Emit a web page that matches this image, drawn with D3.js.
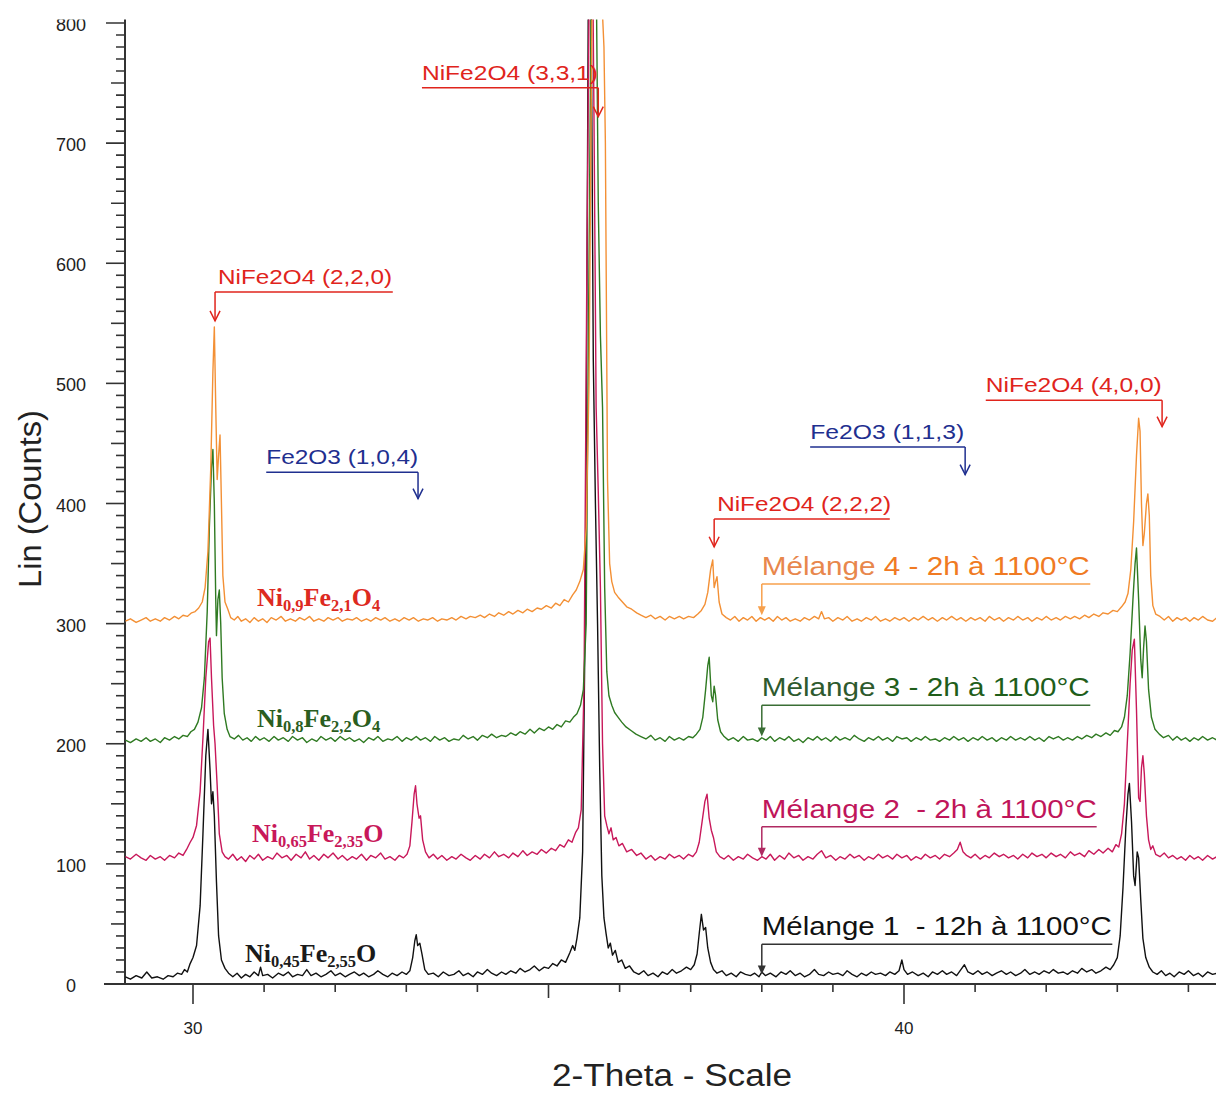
<!DOCTYPE html>
<html><head><meta charset="utf-8">
<script src="https://cdn.jsdelivr.net/npm/d3@7"></script>
<style>html,body{margin:0;padding:0;background:#fff;} svg{display:block;}</style>
</head><body><svg id="chart" width="1216" height="1094"></svg>
<script>
// ---- DATA: [2-theta (deg), Lin counts] ----
const melange1 = [[29.05,6],[29.12,4],[29.2,7],[29.28,5],[29.35,10],[29.42,5],[29.5,6],[29.58,4],[29.65,7],[29.72,6],[29.78,9],[29.84,8],[29.88,12],[29.92,10],[29.96,17],
[30.0,22],[30.05,32],[30.1,65],[30.14,125],[30.18,190],[30.21,212],[30.24,178],[30.26,150],[30.28,160],[30.3,140],[30.33,85],[30.36,40],[30.4,20],[30.45,13],[30.5,9],
[30.56,6],[30.62,9],[30.68,5],[30.74,8],[30.8,6],[30.86,10],[30.92,7],[30.95,14],[30.98,7],[31.05,8],[31.12,5],[31.2,9],[31.27,7],[31.34,10],[31.4,6],[31.47,8],[31.54,7],[31.6,12],[31.66,7],[31.73,9],[31.8,6],[31.87,8],[31.94,11],[32.0,7],[32.07,9],[32.14,6],[32.2,8],[32.27,10],[32.34,7],[32.4,9],[32.47,6],[32.54,8],[32.6,11],[32.67,8],[32.74,6],[32.8,9],[32.87,7],[32.94,10],[33.0,8],[33.05,11],
[33.09,22],[33.12,36],[33.14,41],[33.16,32],[33.19,34],[33.22,25],[33.26,12],[33.31,8],
[33.38,9],[33.45,6],[33.52,10],[33.6,7],[33.67,8],[33.74,11],[33.8,7],[33.87,9],[33.94,6],[34.0,10],[34.07,8],[34.14,12],[34.2,9],[34.27,7],[34.34,10],[34.4,8],[34.47,11],[34.54,9],[34.6,13],[34.67,10],[34.74,12],[34.8,15],[34.87,11],[34.94,14],[35.0,13],[35.06,17],[35.12,15],[35.18,20],[35.24,18],[35.3,26],[35.34,32],[35.37,28],[35.4,38],[35.44,55],[35.48,110],[35.52,330],[35.55,700],[35.57,950],[35.6,820],[35.63,520],[35.66,400],[35.69,300],[35.72,180],[35.75,90],[35.78,55],[35.81,42],[35.84,30],[35.87,34],[35.9,24],[35.94,28],[35.98,18],[36.03,20],[36.08,13],[36.14,15],[36.2,10],
[36.27,8],[36.34,11],[36.4,7],[36.47,9],[36.54,6],[36.6,10],[36.67,8],[36.74,12],[36.8,9],[36.87,11],[36.94,14],[37.0,12],[37.05,16],
[37.09,25],[37.12,42],[37.15,58],[37.18,45],[37.21,47],[37.24,30],[37.28,18],[37.32,12],[37.37,9],
[37.44,11],[37.5,7],[37.57,9],[37.64,6],[37.7,10],[37.77,8],[37.84,7],[37.9,9],[37.96,6],[38.0,10],[38.05,7],[38.12,9],[38.2,6],[38.27,10],[38.34,8],[38.4,11],[38.47,7],[38.54,9],[38.6,6],[38.67,8],[38.74,12],[38.8,8],[38.87,7],[38.94,10],[39.0,8],[39.07,9],[39.14,7],[39.2,11],[39.27,8],[39.34,6],[39.4,9],[39.47,7],[39.54,10],[39.6,8],[39.67,9],[39.74,7],[39.8,10],[39.87,8],[39.93,11],[39.97,20],[40.0,12],[40.05,8],[40.12,10],[40.2,7],[40.27,9],[40.34,6],[40.4,10],[40.47,8],[40.54,11],[40.6,8],[40.67,10],[40.74,7],[40.8,12],[40.85,16],[40.9,10],[40.97,8],[41.04,11],[41.1,8],[41.17,10],[41.24,7],[41.3,9],[41.37,11],[41.44,8],[41.5,10],[41.57,7],[41.64,9],[41.7,12],[41.77,8],[41.84,10],[41.9,8],[41.97,11],[42.04,9],[42.1,12],[42.17,9],[42.24,10],[42.3,8],[42.37,11],[42.44,9],[42.5,13],[42.57,10],[42.64,12],[42.7,9],[42.77,11],[42.84,14],[42.9,12],[42.95,16],
[43.0,22],[43.04,40],[43.08,80],[43.12,130],[43.15,158],[43.17,167],[43.2,135],[43.23,90],[43.25,82],[43.28,110],[43.3,105],[43.33,70],[43.36,38],[43.4,22],[43.45,14],[43.5,10],
[43.56,8],[43.62,11],[43.68,7],[43.74,9],[43.8,6],[43.87,10],[43.94,8],[44.0,11],[44.07,7],[44.14,9],[44.2,6],[44.27,10],[44.34,8],[44.4,9],[44.45,7]];

const melange2 = [[29.05,106],[29.12,104],[29.2,108],[29.27,105],[29.34,103],[29.4,107],[29.47,104],[29.54,106],[29.6,103],[29.67,107],[29.74,105],[29.8,109],[29.86,107],[29.91,112],[29.96,118],[30.0,122],[30.05,132],[30.1,160],[30.14,205],[30.18,255],[30.22,285],[30.24,288],[30.26,255],[30.29,215],[30.31,200],[30.34,165],[30.37,125],[30.41,110],[30.45,106],
[30.5,104],[30.56,108],[30.62,103],[30.68,106],[30.74,102],[30.8,107],[30.86,104],[30.92,108],[30.98,103],[31.05,106],[31.12,104],[31.18,109],[31.25,105],[31.32,107],[31.38,103],[31.45,108],[31.52,105],[31.58,110],[31.64,104],[31.7,107],[31.77,103],[31.84,108],[31.9,105],[31.97,109],[32.04,104],[32.1,107],[32.17,103],[32.24,106],[32.3,104],[32.37,108],[32.44,103],[32.5,107],[32.57,105],[32.64,109],[32.7,104],[32.77,106],[32.84,103],[32.9,107],[32.96,105],[33.01,108],[33.05,115],
[33.08,135],[33.11,158],[33.13,165],[33.15,150],[33.18,138],[33.2,140],[33.23,120],[33.27,110],[33.32,105],
[33.38,108],[33.44,104],[33.5,107],[33.57,103],[33.64,106],[33.7,104],[33.77,108],[33.84,105],[33.9,103],[33.97,107],[34.04,104],[34.1,108],[34.17,105],[34.24,110],[34.3,106],[34.37,108],[34.44,105],[34.5,109],[34.57,106],[34.64,111],[34.7,107],[34.77,110],[34.84,108],[34.9,112],[34.97,109],[35.04,113],[35.1,111],[35.16,116],[35.22,114],[35.28,120],[35.33,118],[35.38,126],[35.42,130],[35.46,145],[35.5,250],[35.54,600],[35.58,880],[35.61,930],[35.64,720],[35.67,480],[35.7,410],[35.73,330],[35.76,200],[35.79,140],[35.82,132],[35.85,125],[35.88,130],[35.91,120],[35.95,122],[35.99,115],[36.04,117],[36.1,110],[36.17,112],[36.24,107],
[36.3,109],[36.37,104],[36.44,107],[36.5,103],[36.57,106],[36.64,104],[36.7,108],[36.77,105],[36.84,107],[36.9,104],[36.97,108],[37.03,106],[37.08,110],[37.12,118],[37.16,135],[37.2,152],[37.23,158],[37.26,138],[37.29,128],[37.32,122],[37.36,110],[37.41,106],
[37.47,104],[37.53,107],[37.6,103],[37.67,106],[37.74,104],[37.8,108],[37.87,105],[37.94,103],[38.0,106],[38.06,104],[38.12,108],[38.18,103],[38.25,107],[38.32,104],[38.38,109],[38.45,105],[38.52,107],[38.58,103],[38.65,106],[38.72,104],[38.78,108],[38.84,111],[38.9,105],[38.97,107],[39.04,103],[39.1,106],[39.17,104],[39.24,108],[39.3,105],[39.37,107],[39.44,103],[39.5,106],[39.57,104],[39.64,108],[39.7,105],[39.77,107],[39.84,104],[39.9,108],[39.97,105],[40.04,107],[40.1,103],[40.17,106],[40.24,104],[40.3,108],[40.37,105],[40.44,107],[40.5,104],[40.57,108],[40.64,106],[40.7,109],[40.75,112],[40.79,118],[40.83,110],[40.88,107],[40.94,105],[41.0,108],[41.07,104],[41.14,107],[41.2,105],[41.27,109],[41.34,106],[41.4,108],[41.47,105],[41.54,107],[41.6,104],[41.67,108],[41.74,105],[41.8,109],[41.87,106],[41.94,108],[42.0,105],[42.07,109],[42.14,106],[42.2,108],[42.27,105],[42.34,110],[42.4,107],[42.47,109],[42.54,106],[42.6,111],[42.67,108],[42.74,112],[42.8,109],[42.87,113],[42.93,110],[42.98,116],[43.02,114],
[43.06,125],[43.1,150],[43.14,200],[43.18,250],[43.21,278],[43.24,287],[43.27,228],[43.3,155],[43.32,152],[43.34,180],[43.36,190],[43.38,175],[43.41,140],[43.44,120],[43.47,112],[43.5,115],[43.54,108],
[43.6,106],[43.66,109],[43.72,105],[43.78,107],[43.84,104],[43.9,106],[43.96,103],[44.02,107],[44.08,104],[44.14,106],[44.2,103],[44.27,107],[44.34,104],[44.4,106],[44.45,104]];

const melange3 = [[29.05,203],[29.12,201],[29.2,204],[29.27,202],[29.34,205],[29.4,202],[29.47,204],[29.54,201],[29.6,205],[29.67,203],[29.74,206],[29.8,204],[29.86,207],[29.92,206],[29.97,210],[30.02,212],[30.07,218],[30.12,230],[30.16,255],[30.2,310],[30.23,380],[30.26,430],[30.28,445],[30.3,400],[30.32,320],[30.33,290],[30.35,320],[30.37,328],[30.39,300],[30.41,255],[30.44,225],[30.48,212],[30.52,206],
[30.58,204],[30.64,207],[30.7,203],[30.76,205],[30.82,202],[30.88,206],[30.94,203],[31.0,205],[31.07,202],[31.14,206],[31.2,203],[31.27,205],[31.34,202],[31.4,206],[31.47,203],[31.54,205],[31.6,201],[31.67,204],[31.74,202],[31.8,206],[31.87,203],[31.94,205],[32.0,202],[32.07,206],[32.14,203],[32.2,205],[32.27,202],[32.34,204],[32.4,201],[32.47,205],[32.54,203],[32.6,206],[32.67,202],[32.74,204],[32.8,203],[32.87,206],[32.94,202],[33.0,205],[33.07,203],[33.14,206],[33.2,203],[33.27,205],[33.34,202],[33.4,206],[33.47,203],[33.54,205],[33.6,202],[33.67,204],[33.74,203],[33.8,207],[33.87,204],[33.94,206],[34.0,203],[34.07,207],[34.14,205],[34.2,208],[34.27,205],[34.34,207],[34.4,206],[34.47,209],[34.54,207],[34.6,210],[34.67,208],[34.74,212],[34.8,209],[34.87,213],[34.94,211],[35.0,214],[35.06,212],[35.12,216],[35.18,214],[35.24,219],[35.3,218],[35.35,222],[35.4,225],[35.45,232],[35.49,245],[35.53,300],[35.57,600],[35.61,900],[35.64,1000],[35.67,850],[35.7,650],[35.73,540],[35.76,480],[35.79,330],[35.82,260],[35.85,240],[35.89,232],[35.93,226],[35.98,222],[36.03,218],[36.09,214],[36.16,211],[36.23,208],
[36.3,206],[36.37,204],[36.44,207],[36.5,203],[36.57,205],[36.64,202],[36.7,206],[36.77,203],[36.84,205],[36.9,203],[36.97,206],[37.03,205],[37.08,208],[37.13,212],[37.17,222],[37.21,245],[37.24,265],[37.26,272],[37.29,240],[37.31,235],[37.33,248],[37.35,240],[37.38,220],[37.42,210],[37.47,206],
[37.53,203],[37.6,205],[37.67,202],[37.74,206],[37.8,203],[37.87,204],[37.94,202],[38.0,205],[38.06,203],[38.12,206],[38.18,202],[38.25,205],[38.32,203],[38.38,206],[38.45,202],[38.52,204],[38.58,201],[38.65,205],[38.72,203],[38.78,206],[38.84,203],[38.9,205],[38.97,202],[39.04,206],[39.1,203],[39.17,205],[39.24,203],[39.3,207],[39.37,204],[39.44,202],[39.5,205],[39.57,203],[39.64,206],[39.7,203],[39.77,205],[39.84,202],[39.9,206],[39.97,204],[40.04,205],[40.1,202],[40.17,205],[40.24,203],[40.3,206],[40.37,203],[40.44,204],[40.5,202],[40.57,205],[40.64,203],[40.7,206],[40.77,203],[40.84,205],[40.9,202],[40.97,205],[41.04,203],[41.1,206],[41.17,203],[41.24,205],[41.3,202],[41.37,205],[41.44,203],[41.5,206],[41.57,203],[41.64,205],[41.7,203],[41.77,206],[41.84,203],[41.9,205],[41.97,202],[42.04,206],[42.1,204],[42.17,206],[42.24,203],[42.3,205],[42.37,203],[42.44,206],[42.5,204],[42.57,207],[42.64,205],[42.7,208],[42.77,206],[42.84,209],[42.9,207],[42.96,211],[43.01,210],[43.06,214],
[43.1,222],[43.14,240],[43.18,275],[43.22,320],[43.25,350],[43.27,363],[43.3,320],[43.33,270],[43.35,255],[43.37,280],[43.39,298],[43.41,285],[43.44,245],[43.48,222],[43.53,212],[43.59,208],
[43.65,205],[43.72,207],[43.78,203],[43.84,206],[43.9,203],[43.96,205],[44.02,202],[44.08,205],[44.14,203],[44.2,206],[44.27,203],[44.34,205],[44.4,203],[44.45,204]];

const melange4 = [[29.05,302],[29.12,304],[29.2,301],[29.27,303],[29.34,305],[29.4,302],[29.47,304],[29.54,302],[29.6,305],[29.67,303],[29.74,306],[29.8,304],[29.86,307],[29.92,306],[29.98,309],[30.03,310],[30.08,313],[30.13,318],[30.17,330],[30.21,360],[30.25,430],[30.28,510],[30.3,547],[30.32,480],[30.34,420],[30.36,440],[30.38,457],[30.4,400],[30.42,340],[30.45,318],[30.49,312],[30.53,305],
[30.58,303],[30.63,306],[30.68,302],[30.74,304],[30.8,301],[30.86,305],[30.92,302],[30.98,304],[31.04,301],[31.1,305],[31.17,303],[31.24,306],[31.3,302],[31.37,304],[31.44,302],[31.5,305],[31.57,303],[31.64,306],[31.7,302],[31.77,304],[31.84,302],[31.9,305],[31.97,303],[32.04,305],[32.1,302],[32.17,304],[32.24,303],[32.3,305],[32.37,302],[32.44,304],[32.5,302],[32.57,305],[32.64,303],[32.7,305],[32.77,302],[32.84,304],[32.9,302],[32.97,305],[33.04,303],[33.1,305],[33.17,302],[33.24,304],[33.3,303],[33.37,305],[33.44,302],[33.5,304],[33.57,303],[33.64,305],[33.7,303],[33.77,306],[33.84,304],[33.9,306],[33.97,305],[34.04,307],[34.1,305],[34.17,308],[34.24,306],[34.3,309],[34.37,307],[34.44,310],[34.5,308],[34.57,311],[34.64,309],[34.7,312],[34.77,310],[34.84,313],[34.9,312],[34.97,315],[35.04,313],[35.1,317],[35.16,315],[35.22,320],[35.28,318],[35.34,324],[35.39,328],[35.44,335],[35.49,345],[35.53,380],[35.57,500],[35.61,800],[35.65,1000],[35.69,1100],[35.72,950],[35.75,820],[35.78,780],[35.8,700],[35.83,420],[35.86,350],[35.89,335],[35.93,326],[35.98,322],[36.04,318],[36.1,314],[36.17,312],[36.24,309],
[36.3,307],[36.37,305],[36.44,307],[36.5,304],[36.57,306],[36.64,303],[36.7,306],[36.77,304],[36.84,306],[36.9,304],[36.97,306],[37.04,305],[37.1,308],[37.15,311],[37.2,316],[37.24,326],[37.28,345],[37.31,353],[37.33,330],[37.35,335],[37.37,339],[37.4,318],[37.44,308],[37.5,305],
[37.56,303],[37.62,306],[37.68,302],[37.74,305],[37.8,303],[37.86,306],[37.92,302],[37.98,305],[38.04,303],[38.1,305],[38.16,302],[38.22,306],[38.28,303],[38.34,305],[38.4,302],[38.47,304],[38.54,302],[38.6,305],[38.67,303],[38.74,306],[38.8,304],[38.84,310],[38.88,304],[38.94,305],[39.0,302],[39.07,305],[39.14,303],[39.2,306],[39.27,302],[39.34,304],[39.4,302],[39.47,305],[39.54,303],[39.6,306],[39.67,302],[39.74,304],[39.8,302],[39.87,305],[39.94,303],[40.0,305],[40.07,302],[40.14,305],[40.2,303],[40.27,306],[40.34,303],[40.4,305],[40.47,302],[40.54,305],[40.6,303],[40.67,306],[40.74,303],[40.8,305],[40.87,302],[40.94,305],[41.0,303],[41.07,305],[41.14,302],[41.2,306],[41.27,303],[41.34,305],[41.4,302],[41.47,305],[41.54,303],[41.6,306],[41.67,303],[41.74,305],[41.8,302],[41.87,305],[41.94,303],[42.0,306],[42.07,303],[42.14,305],[42.2,303],[42.27,306],[42.34,304],[42.4,306],[42.47,304],[42.54,307],[42.6,305],[42.67,308],[42.74,306],[42.8,309],[42.87,308],[42.94,311],[43.0,310],[43.06,314],[43.11,318],
[43.15,325],[43.19,345],[43.23,385],[43.27,440],[43.3,471],[43.32,460],[43.34,400],[43.36,365],[43.38,375],[43.41,400],[43.43,408],[43.45,390],[43.47,340],[43.5,315],[43.54,308],[43.6,306],
[43.66,303],[43.72,306],[43.78,302],[43.84,305],[43.9,303],[43.96,305],[44.02,302],[44.08,305],[44.14,303],[44.2,306],[44.27,303],[44.34,302],[44.4,305],[44.45,303]];

const seriesNames = ["Mélange 1  - 12h à 1100°C","Mélange 2  - 2h à 1100°C","Mélange 3 - 2h à 1100°C","Mélange 4 - 2h à 1100°C"];
const formulas = [
  [["Ni",0],["0,45",1],["Fe",0],["2,55",1],["O",0]],
  [["Ni",0],["0,65",1],["Fe",0],["2,35",1],["O",0]],
  [["Ni",0],["0,8",1],["Fe",0],["2,2",1],["O",0],["4",1]],
  [["Ni",0],["0,9",1],["Fe",0],["2,1",1],["O",0],["4",1]]
];
const yTickValues = [0,100,200,300,400,500,600,700,800];
const xTickLabels = [30,40];
// reflection labels: [text, phase, arrow 2θ, line-end 2θ, line counts, arrow-tip counts, arrow side]
const reflections = [
  ["NiFe2O4 (2,2,0)","spinel",30.31,32.81,576,552,"left"],
  ["NiFe2O4 (3,3,1)","spinel",35.70,33.22,746,722,"right"],
  ["Fe2O3 (1,0,4)","hematite",33.165,31.03,426,404,"right"],
  ["NiFe2O4 (2,2,2)","spinel",37.33,39.80,387,364,"left"],
  ["Fe2O3 (1,1,3)","hematite",40.86,38.68,447,424,"right"],
  ["NiFe2O4 (4,0,0)","spinel",43.63,41.15,486,464,"right"]
];
// legend marker position (2θ) and line level / tip level in counts
const legendTheta = 38.0;
const legendEnd = [42.93,42.71,42.62,42.62];
const legendLine = [33,131,232,333];
const legendTip = [8,106,206,307];
const formulaTheta = [30.73,30.83,30.90,30.90];
const formulaBase = [18,118,214,315];

// ---- STYLE ----
const lineColors = ["#111111","#c8185a","#2f7a22","#f39035"];
const textColors = ["#111111","#c0155a","#1f5e1a","#f07a22"];
const word1Colors = ["#111111","#c0155a","#2e5a2e","#e8874c"];
const formulaColors = ["#1a1a1a","#c8185a","#2b5e1f","#dd2a1f"];
const legendLineColors = ["#333333","#b02a62","#3a6e35","#f7a04c"];
const phaseColor = {spinel:"#e0241c", hematite:"#1f2f8f"};
const refWidths = [174,176,152,174,154,176];
const legendWidths = [350,335,328,328];
const SANS = "'Liberation Sans', Arial, Helvetica, sans-serif";
const SERIF = "'Liberation Serif', 'Times New Roman', serif";

const svg = d3.select("#chart");
const x = d3.scaleLinear().domain([30,40]).range([193,904]);
const y = d3.scaleLinear().domain([0,800]).range([984,23]);

const defs = svg.append("defs");
defs.append("clipPath").attr("id","plotclip").append("rect").attr("x",125).attr("y",19).attr("width",1100).attr("height",966);
defs.append("clipPath").attr("id","topclip").append("rect").attr("x",0).attr("y",19.5).attr("width",1216).attr("height",1100);

const root = svg.append("g").attr("clip-path","url(#topclip)");

// Axes
const axG = root.append("g");
axG.append("line").attr("x1",125).attr("x2",125).attr("y1",19).attr("y2",985).attr("stroke","#333").attr("stroke-width",2);
axG.append("line").attr("x1",104).attr("x2",1216).attr("y1",984).attr("y2",984).attr("stroke","#333").attr("stroke-width",2);
const yMinor = d3.range(0,801,10);
axG.selectAll(".yt").data(yMinor).join("line")
  .attr("x1",d=> d%100===0 ? 106 : (d%50===0 ? 111 : 116)).attr("x2",125)
  .attr("y1",d=>y(d)).attr("y2",d=>y(d)).attr("stroke","#333").attr("stroke-width",1.6);
axG.selectAll(".yl").data(yTickValues).join("text")
  .attr("x",71).attr("y",d=>y(d)+8).attr("text-anchor","middle")
  .attr("font-family",SANS).attr("font-size",18).attr("fill","#222").text(d=>d);
const xMinor = d3.range(29,45,1);
axG.selectAll(".xt").data(xMinor.filter(d=>x(d)>126)).join("line")
  .attr("x1",d=>x(d)).attr("x2",d=>x(d)).attr("y1",984)
  .attr("y2",d=> d%10===0 ? 1004 : (d%5===0 ? 998 : 992)).attr("stroke","#333").attr("stroke-width",1.6);
axG.selectAll(".xl").data(xTickLabels).join("text")
  .attr("x",d=>x(d)).attr("y",1034).attr("text-anchor","middle")
  .attr("font-family",SANS).attr("font-size",17).attr("fill","#222").text(d=>d);
axG.append("text").attr("x",672).attr("y",1086).attr("text-anchor","middle")
  .attr("font-family",SANS).attr("font-size",31).attr("fill","#222")
  .attr("textLength",240).attr("lengthAdjust","spacingAndGlyphs").text("2-Theta - Scale");
axG.append("text").attr("transform","translate(41,499) rotate(-90)").attr("text-anchor","middle")
  .attr("font-family",SANS).attr("font-size",32).attr("fill","#222")
  .attr("textLength",178).attr("lengthAdjust","spacingAndGlyphs").text("Lin (Counts)");

// Series
const series = [melange1, melange2, melange3, melange4];
const line = d3.line().x(d=>x(d[0])).y(d=>y(d[1]));
const plotG = root.append("g").attr("clip-path","url(#plotclip)");
plotG.selectAll("path.s").data(series).join("path").attr("class","s")
  .attr("d",line).attr("fill","none")
  .attr("stroke",(d,i)=>lineColors[i]).attr("stroke-width",1.4).attr("stroke-linejoin","round");

// Reflection annotations
const annG = root.append("g");
reflections.forEach((r,i)=>{
  const [label, phase, aT, eT, lv, tv, side] = r;
  const col = phaseColor[phase];
  const ax = x(aT), ex = x(eT), ly = y(lv), ty = y(tv);
  annG.append("line").attr("x1",Math.min(ax,ex)).attr("x2",Math.max(ax,ex)).attr("y1",ly).attr("y2",ly)
    .attr("stroke",col).attr("stroke-width",1.5);
  annG.append("line").attr("x1",ax).attr("x2",ax).attr("y1",ly).attr("y2",ty).attr("stroke",col).attr("stroke-width",1.5);
  annG.append("path").attr("d",`M${ax-5},${ty-10}L${ax},${ty}L${ax+5},${ty-10}`).attr("fill","none").attr("stroke",col).attr("stroke-width",1.5);
  const tx = Math.min(ax,ex) + (side==="left" ? 3 : 0);
  annG.append("text").attr("x",tx).attr("y",ly-8).attr("font-family",SANS).attr("font-size",21)
    .attr("fill",col).attr("textLength",refWidths[i]).attr("lengthAdjust","spacingAndGlyphs").text(label);
});

// Legend labels with markers
const legG = root.append("g");
seriesNames.forEach((name,i)=>{
  const lx = x(legendTheta), ex = x(legendEnd[i]), ly = y(legendLine[i]), ty = y(legendTip[i]);
  legG.append("line").attr("x1",lx).attr("x2",ex).attr("y1",ly).attr("y2",ly).attr("stroke",legendLineColors[i]).attr("stroke-width",1.5);
  legG.append("line").attr("x1",lx).attr("x2",lx).attr("y1",ly).attr("y2",ty-6).attr("stroke",legendLineColors[i]).attr("stroke-width",1.5);
  legG.append("path").attr("d",`M${lx-4},${ty-9}L${lx+4},${ty-9}L${lx},${ty}Z`).attr("fill",legendLineColors[i]);
  const t = legG.append("text").attr("x",lx).attr("y",ly-9).attr("font-family",SANS).attr("font-size",26)
    .attr("textLength",legendWidths[i]).attr("lengthAdjust","spacingAndGlyphs").attr("xml:space","preserve");
  const sp = name.indexOf(" ");
  t.append("tspan").attr("fill",word1Colors[i]).text(name.slice(0,sp));
  t.append("tspan").attr("fill",textColors[i]).text(name.slice(sp));
});

// Formula labels (serif bold, subscripts)
const fG = root.append("g");
formulas.forEach((parts,i)=>{
  const t = fG.append("text").attr("x",x(formulaTheta[i])).attr("y",y(formulaBase[i]))
    .attr("font-family",SERIF).attr("font-weight","bold").attr("font-size",26).attr("fill",formulaColors[i]);
  let sub = false;
  parts.forEach(([s,isSub])=>{
    const ts = t.append("tspan").text(s);
    if (isSub && !sub) { ts.attr("dy",5).attr("font-size",16.5); sub = true; }
    else if (isSub) { ts.attr("font-size",16.5); }
    else if (!isSub && sub) { ts.attr("dy",-5); sub = false; }
  });
});
</script>
</body></html>
